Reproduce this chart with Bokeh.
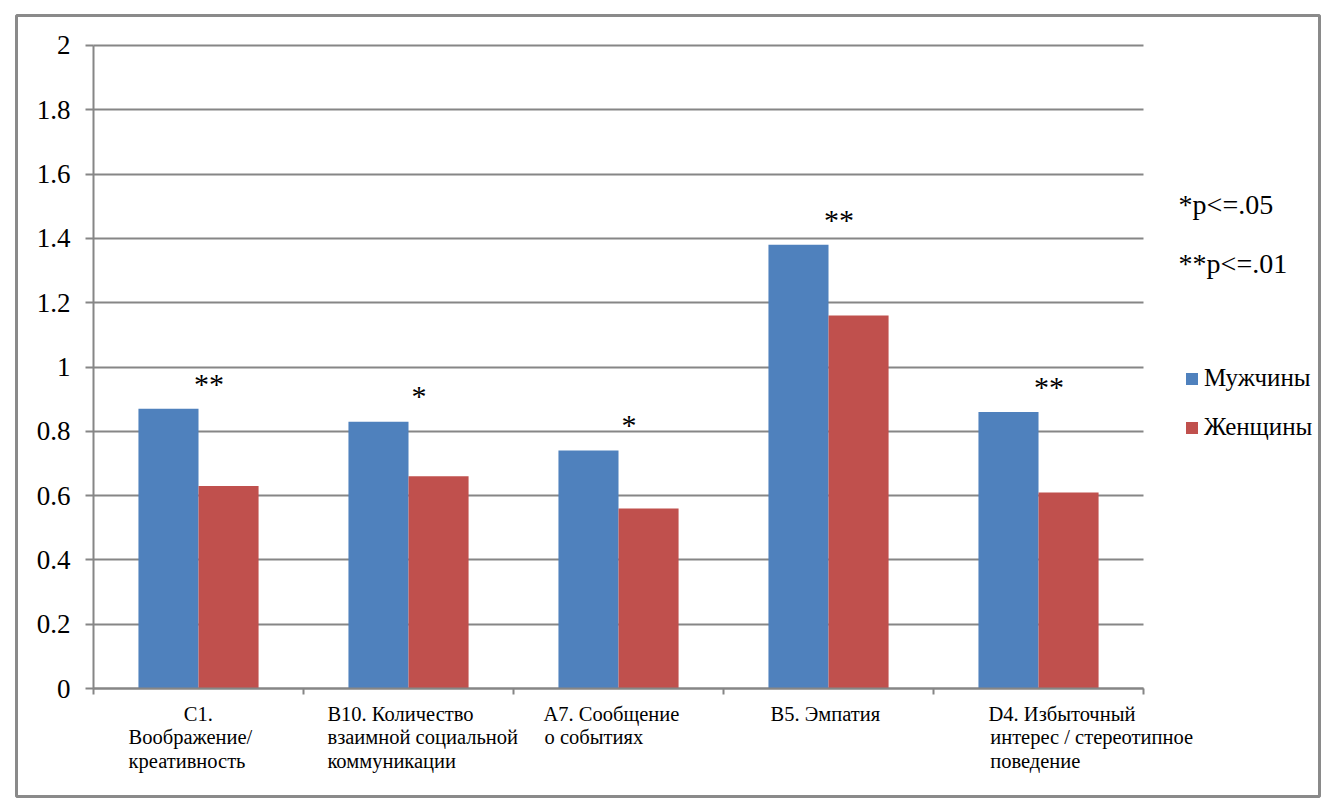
from bokeh.plotting import figure
from bokeh.models import (Range1d, FixedTicker, Label, Legend, LegendItem, LinearAxis,
                          Grid, CustomJSTickFormatter, ColumnDataSource)
from bokeh.core.properties import value
from bokeh.embed import file_html
from bokeh.resources import INLINE

# ---- data ----
categories = [
    "C1.|Воображение/|креативность",
    "B10. Количество|взаимной социальной|коммуникации",
    "A7. Сообщение|о событиях",
    "B5. Эмпатия",
    "D4. Избыточный|интерес / стереотипное|поведение",
]
men = [0.87, 0.83, 0.74, 1.38, 0.86]
women = [0.63, 0.66, 0.56, 1.16, 0.61]
significance = ["**", "*", "*", "**", "**"]
y_ticks = [0, 0.2, 0.4, 0.6, 0.8, 1, 1.2, 1.4, 1.6, 1.8, 2]
notes = ["*p<=.05", "**p<=.01"]
series_names = ["Мужчины", "Женщины"]

BLUE = "#4F81BD"
RED = "#C0504D"
GRID = "#868686"
FONT = "Liberation Serif"

n = len(categories)
idx = list(range(n))

# frame covers the whole bordered chart box; axes are fixed inside it
p = figure(width=1321, height=798, output_backend="svg", toolbar_location=None,
           x_range=Range1d(-0.3667, 5.838), y_range=Range1d(-0.3359, 2.0933),
           x_axis_location=None, y_axis_location=None,
           min_border_left=16, min_border_right=2, min_border_top=15,
           min_border_bottom=2)
p.outline_line_color = "#8a8a8a"
p.outline_line_width = 3
p.background_fill_color = "white"
p.border_fill_color = "white"
p.center = [c for c in p.center if not isinstance(c, Grid)]

# gridlines
ygrid = Grid(dimension=1, ticker=FixedTicker(ticks=y_ticks), cross_bounds=(0, n),
             grid_line_color=GRID, grid_line_width=2)
p.add_layout(ygrid, "center")

# bars
src = ColumnDataSource(dict(
    xm=[i + 0.357 for i in idx], xw=[i + 0.643 for i in idx],
    men=men, women=women))
r_m = p.vbar(x="xm", top="men", width=0.286, source=src, fill_color=BLUE, line_color=None)
r_w = p.vbar(x="xw", top="women", width=0.286, source=src, fill_color=RED, line_color=None)

# significance stars
p.text(x=[i + 0.55 for i in idx], y=[m + 0.08 for m in men], text=significance,
       text_font=value(FONT), text_font_size="30px", text_align="center",
       text_baseline="alphabetic", text_color="black")

# axes
yaxis = LinearAxis(fixed_location=0, bounds=(0, 2), ticker=FixedTicker(ticks=y_ticks),
                   formatter=CustomJSTickFormatter(code="return String(Math.round(tick*10)/10)"),
                   major_label_text_font=FONT, major_label_text_font_size="27px",
                   major_label_text_color="black", major_label_standoff=15,
                   major_tick_in=0, major_tick_out=8, minor_tick_line_color=None,
                   axis_line_color=GRID, axis_line_width=2,
                   major_tick_line_color=GRID, major_tick_line_width=2)
p.add_layout(yaxis, "left")

xaxis = LinearAxis(fixed_location=0, bounds=(0, n), ticker=FixedTicker(ticks=list(range(n + 1))),
                   major_label_text_font_size="0px", major_label_text_alpha=0,
                   major_tick_in=0, major_tick_out=6, minor_tick_line_color=None,
                   axis_line_color=GRID, axis_line_width=2,
                   major_tick_line_color=GRID, major_tick_line_width=2)
p.add_layout(xaxis, "below")

# category labels (multi-line, left aligned)
line_y = [-0.078, -0.152, -0.224]
first_x = [0.43, 1.114, 2.143, 3.224, 4.262]
rest_x = [0.167, 1.114, 2.148, 3.224, 4.27]
for i, cat in enumerate(categories):
    for j, line in enumerate(cat.split("|")):
        p.add_layout(Label(x=(first_x[i] if j == 0 else rest_x[i]), y=line_y[j],
                           text=line, text_font=FONT, text_font_size="20.5px",
                           text_align="left", text_baseline="alphabetic",
                           text_color="black"))

# notes on right
for txt, yy in zip(notes, [1.504, 1.323]):
    p.add_layout(Label(x=5.167, y=yy, text=txt, text_font=FONT, text_font_size="28px",
                       text_align="left", text_baseline="alphabetic", text_color="black"))

legend = Legend(items=[LegendItem(label=series_names[0], renderers=[r_m]),
                       LegendItem(label=series_names[1], renderers=[r_w])],
                location=(1168, 355), orientation="vertical",
                label_text_font=FONT, label_text_font_size="25px", label_text_color="black",
                glyph_width=15, glyph_height=15, label_standoff=5,
                spacing=21, padding=0, margin=0,
                border_line_color=None, background_fill_alpha=0)
p.add_layout(legend, "center")

open("out.html", "w").write(file_html(p, INLINE))
